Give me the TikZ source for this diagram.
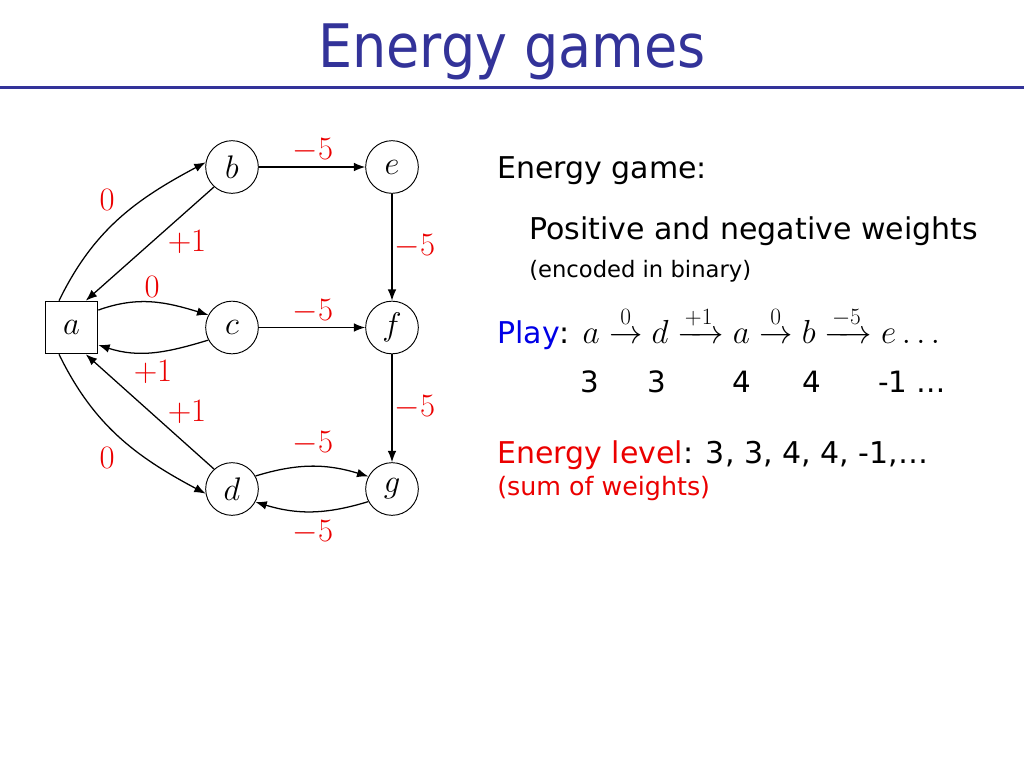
\RequirePackage{fix-cm}
\documentclass[tikz,border=0pt]{standalone}
\usepackage[no-math]{fontspec}
\setmainfont{DejaVu Sans}
\newfontfamily\titlefont{DejaVu Sans Condensed}
\usepackage{amsmath}
\usetikzlibrary{arrows.meta}
\definecolor{titleblue}{RGB}{51,51,153}
\definecolor{playblue}{RGB}{0,0,230}
\definecolor{lblred}{RGB}{235,0,0}
\begin{document}
\begin{tikzpicture}[x=0.75pt,y=0.75pt,
  state/.style={circle,draw,line width=0.7pt,minimum size=39.5pt,inner sep=0pt,font=\fontsize{24.5}{28}\selectfont},
  player/.style={rectangle,draw,line width=0.7pt,minimum size=39.5pt,inner sep=0pt,font=\fontsize{24.5}{28}\selectfont},
  edge/.style={line width=0.95pt,-{Latex[length=8.5pt,width=6.5pt]}},
  wlabel/.style={text=lblred,font=\fontsize{24.5}{28}\selectfont,inner sep=0pt},
  body/.style={anchor=base west,inner sep=0pt,font=\fontsize{22.5}{27}\selectfont},
  small/.style={anchor=base west,inner sep=0pt,font=\fontsize{17}{20}\selectfont},
  num/.style={anchor=base,inner sep=0pt,font=\fontsize{22}{26}\selectfont}]
\useasboundingbox (0,0) rectangle (1024,-768);
% title
\node[text=titleblue,font=\titlefont\fontsize{45}{50}\selectfont,inner sep=0pt,anchor=base] (title) at (512,-67) {Energy games};
\draw[titleblue,line width=2.4pt] (0,-87.5) -- (1024,-87.5);
% graph nodes
\node[player] (a) at (71.5,-327.5) {$a$};
\node[state] (b) at (232,-167) {$b$};
\node[state] (e) at (392,-167) {$e$};
\node[state] (c) at (232,-327.5) {$c$};
\node[state] (f) at (392,-327.5) {$f$};
\node[state] (d) at (232,-489) {$d$};
\node[state] (g) at (392,-489) {$g$};
% edges
\draw[edge] (a.115) to[out=64,in=208] (b.170);
\draw[edge] (b.228) -- (a.62);
\draw[edge] (a.33) to[out=20,in=163] (c.152);
\draw[edge] (c.208) to[out=197,in=-18] (a.-33);
\draw[edge] (a.-115) to[out=-64,in=152] (d.190);
\draw[edge] (d.132) -- (a.-62);
\draw[edge] (b) -- (e);
\draw[edge] (c) -- (f);
\draw[edge] (e) -- (f);
\draw[edge] (f) -- (g);
\draw[edge] (d.29) to[out=17,in=163] (g.152);
\draw[edge] (g.-152) to[out=197,in=-17] (d.-29);
% weights
\node[wlabel] (l1) at (313,-150) {$-5$};
\node[wlabel] (l2) at (415,-246) {$-5$};
\node[wlabel] (l3) at (152,-287) {$0$};
\node[wlabel] (l4) at (313,-311) {$-5$};
\node[wlabel] (l5) at (153,-372) {$+1$};
\node[wlabel] (l6) at (187,-412) {$+1$};
\node[wlabel] (l7) at (415,-407) {$-5$};
\node[wlabel] (l8) at (107,-200) {$0$};
\node[wlabel] (l9) at (187,-242) {$+1$};
\node[wlabel] (l10) at (107,-458) {$0$};
\node[wlabel] (l11) at (313,-443) {$-5$};
\node[wlabel] (l12) at (313,-532) {$-5$};
% right text
\node[body] (t1) at (497,-178) {Energy game:};
\node[body] (t2) at (529,-239) {Positive and negative weights};
\node[small] (t3) at (529,-277) {(encoded in binary)};
\node[body] (t4) at (497,-343) {\textcolor{playblue}{Play}: \fontsize{25}{29}\selectfont$a \stackrel{0}{\rightarrow} d \xrightarrow{+1} a \stackrel{0}{\rightarrow} b \xrightarrow{-5} e \ldots$};
\node[num] (n1) at (590,-392) {3};
\node[num] (n2) at (657,-392) {3};
\node[num] (n3) at (742,-392) {4};
\node[num] (n4) at (812,-392) {4};
\node[num] (n5) at (912,-392) {-1 …};
\node[body] (t5) at (497,-463) {\textcolor{lblred}{Energy level}: 3, 3, 4, 4, -1,…};
\node[small,text=lblred,font=\fontsize{19}{22}\selectfont] (t6) at (497,-495) {(sum of weights)};
\end{tikzpicture}
\end{document}
